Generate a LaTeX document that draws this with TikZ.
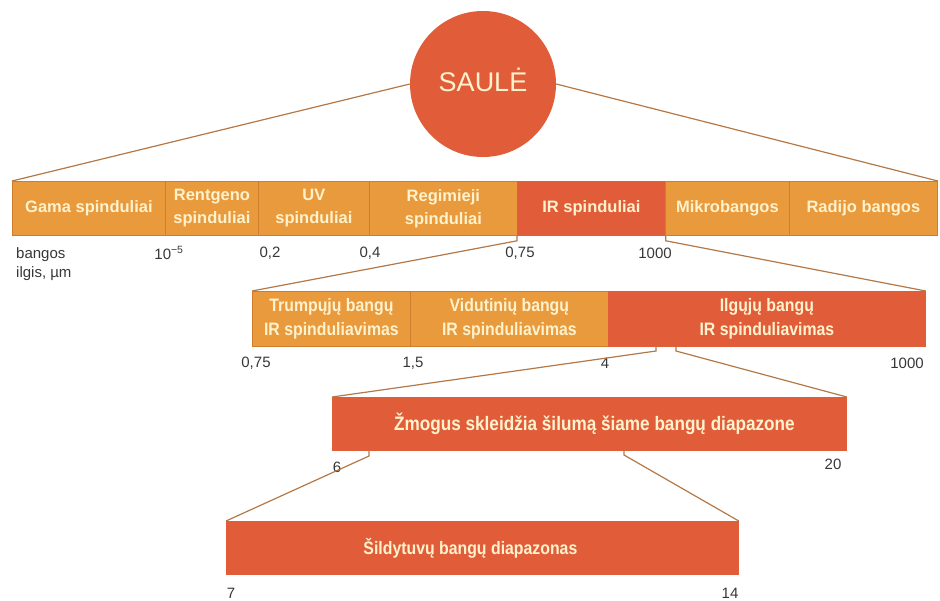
\documentclass[tikz,border=0pt]{standalone}
\usepackage{fontspec}
\setmainfont{Liberation Sans}
\newfontfamily\narrowfont{Liberation Sans}[FakeStretch=0.88]
\definecolor{barorange}{RGB}{232,154,60}
\definecolor{barred}{RGB}{225,93,58}
\definecolor{barline}{RGB}{205,125,45}
\definecolor{bartext}{RGB}{255,242,205}
\definecolor{linkbrown}{RGB}{180,120,70}
\definecolor{numgray}{RGB}{55,55,55}
\usetikzlibrary{positioning}

\begin{document}
\begin{tikzpicture}[
    x=1pt, y=-1pt,
    bandseg/.style={rectangle, draw=barline, line width=0.8pt, fill=barorange, anchor=north west, inner sep=0pt, text=bartext, align=center, font=\bfseries\fontsize{16.5}{23}\selectfont},
    bandhot/.style={bandseg, fill=barred, draw=barred},
    subseg/.style={bandseg, font=\narrowfont\bfseries\fontsize{18}{24}\selectfont},
    subhot/.style={subseg, fill=barred, draw=barred},
    numlbl/.style={text=numgray, inner sep=0pt, font=\fontsize{15}{19}\selectfont},
    linkline/.style={draw=linkbrown, line width=1.2pt}
]
\useasboundingbox (0,0) rectangle (940,600);

% Sun
\node[circle, fill=barred, minimum size=146pt, inner sep=0pt, text=bartext, font=\fontsize{27}{30}\selectfont] (sun) at (483,84) {\raisebox{9pt}{SAULĖ}};

% Spectrum
\node[bandseg, minimum width=153pt, minimum height=54pt] (gama) at (12,181) {Gama spinduliai};
\node[bandseg, minimum width=93pt, minimum height=54pt] (rentgen) at (165,181) {Rentgeno\\spinduliai};
\node[bandseg, minimum width=111pt, minimum height=54pt] (uv) at (258,181) {UV\\spinduliai};
\node[bandseg, minimum width=148pt, minimum height=54pt] (regim) at (369,181) {Regimieji\\spinduliai};
\node[bandhot, minimum width=148pt, minimum height=54pt] (ir) at (517,181) {IR spinduliai};
\node[bandseg, minimum width=124pt, minimum height=54pt] (mikro) at (665,181) {Mikrobangos};
\node[bandseg, minimum width=148pt, minimum height=54pt] (radijo) at (789,181) {Radijo bangos};

% IR ranges
\node[subseg, minimum width=158pt, minimum height=55pt] (trump) at (252,291) {Trumpųjų bangų\\IR spinduliavimas};
\node[subseg, minimum width=198pt, minimum height=55pt] (vidut) at (410,291) {Vidutinių bangų\\IR spinduliavimas};
\node[subhot, minimum width=317pt, minimum height=55pt] (ilg) at (608,291) {Ilgųjų bangų\\IR spinduliavimas};

% Human range
\node[subhot, minimum width=514pt, minimum height=53pt, font=\narrowfont\bfseries\fontsize{19.5}{24}\selectfont] (zmog) at (332,397) {\hspace*{10pt}Žmogus skleidžia šilumą šiame bangų diapazone};

% Heater range
\node[subhot, minimum width=512pt, minimum height=53pt] (sild) at (226,521) {\hspace*{-24pt}Šildytuvų bangų diapazonas};

% Wavelengths
\node[numlbl, anchor=west, align=left] (unit) at (16,264) {bangos\\ilgis, µm};
\node[numlbl] (w1) at (169,253) {10\textsuperscript{−5}};
\node[numlbl] (w2) at (270,253) {0,2};
\node[numlbl] (w3) at (370,253) {0,4};
\node[numlbl] (w4) at (520,253) {0,75};
\node[numlbl] (w5) at (655,253) {1000};
\node[numlbl] (v1) at (256,363) {0,75};
\node[numlbl] (v2) at (413,363) {1,5};
\node[numlbl] (v3) at (605,363) {4};
\node[numlbl] (v4) at (907,363) {1000};
\node[numlbl] (h1) at (337,467) {6};
\node[numlbl] (h2) at (833,464) {20};
\node[numlbl] (s1) at (231,593) {7};
\node[numlbl] (s2) at (730,593) {14};

% Zoom lines
\coordinate (ilgL) at (656,346);
\coordinate (ilgR) at (676,346);
\coordinate (zmL) at (369,450);
\coordinate (zmR) at (624,450);
\draw[linkline] (sun.west) -- (gama.north west);
\draw[linkline] (sun.east) -- (radijo.north east);
\draw[linkline] (ir.south west) -- ++(0,5) -- (trump.north west);
\draw[linkline] (ir.south east) -- ++(0,5) -- (ilg.north east);
\draw[linkline] (ilgL) -- ++(0,5) -- (zmog.north west);
\draw[linkline] (ilgR) -- ++(0,5) -- (zmog.north east);
\draw[linkline] (zmL) -- ++(0,6) -- (sild.north west);
\draw[linkline] (zmR) -- ++(0,5) -- (sild.north east);

\end{tikzpicture}
\end{document}
